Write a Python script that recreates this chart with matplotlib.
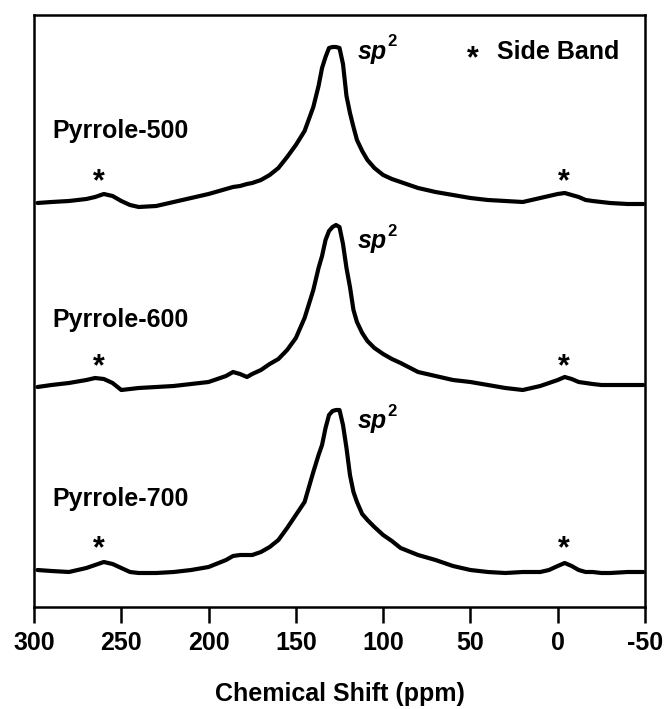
import matplotlib
matplotlib.use("Agg")
import matplotlib.pyplot as plt
import numpy as np

plt.rcParams['font.family'] = ['Liberation Sans', 'DejaVu Sans']

# chemical shift grid (ppm)
ppm = [298, 290, 280, 270, 265, 260, 255, 250, 245, 240, 230, 220, 210, 200,
       190, 186, 182, 178, 175, 170, 165, 160, 155, 150, 145, 140, 137, 135,
       133, 131, 129, 127, 125, 123, 121, 119, 117, 115, 112, 109, 105, 100,
       95, 90, 80, 70, 60, 50, 40, 30, 20, 15, 10, 5, 0, -4, -8, -12, -16,
       -20, -25, -30, -40, -49]

# intensities (arbitrary units, relative to each baseline)
pyrrole_500 = [1, 2, 3, 5, 7, 10, 8, 3, -1, -3, -2, 2, 6, 10,
               15, 17, 18, 20, 21, 24, 29, 36, 47, 59, 73, 97, 118, 136,
               147, 156, 157, 157, 156, 140, 108, 91, 77, 64, 53, 44, 36, 29,
               25, 22, 16, 12, 9, 6, 4, 3, 2, 4, 6, 8, 10, 11, 9, 7, 4,
               3, 2, 1, 0, 0]
pyrrole_600 = [-1, 1, 3, 6, 8, 7, 3, -4, -3, -2, -1, 0, 2, 4,
               10, 14, 12, 9, 12, 16, 22, 27, 36, 48, 68, 96, 118, 130,
               146, 155, 159, 161, 159, 142, 118, 99, 76, 64, 53, 45, 38, 32,
               27, 23, 14, 10, 6, 4, 1, -2, -4, -2, 0, 3, 6, 9, 7, 4, 3,
               2, 1, 1, 1, 1]
pyrrole_700 = [3, 2, 1, 5, 8, 11, 9, 5, 1, 0, 0, 1, 3, 6,
               13, 17, 18, 18, 18, 21, 26, 33, 45, 58, 71, 101, 118, 128,
               145, 158, 162, 163, 163, 148, 125, 98, 81, 71, 59, 53, 46, 38,
               32, 25, 18, 13, 7, 3, 1, 0, 1, 1, 1, 3, 7, 10, 7, 3, 1,
               1, 0, 0, 1, 1]

series = [pyrrole_500, pyrrole_600, pyrrole_700]
names = ["Pyrrole-500", "Pyrrole-600", "Pyrrole-700"]
offsets = [403, 221, 34]

xticks = [300, 250, 200, 150, 100, 50, 0, -50]
side_band_ppm = [263, -3.5]

fig = plt.figure(figsize=(6.66, 7.09), dpi=100)
ax = fig.add_axes([34/666, 1 - 607/709, 611/666, 592/709])

for s, off in zip(series, offsets):
    ax.plot(ppm, np.array(s) + off, color='black', lw=3.0,
            solid_joinstyle='round', solid_capstyle='round')

ax.set_xlim(300, -50)
ax.set_ylim(0, 592)
ax.set_yticks([])
ax.set_xticks(xticks)
ax.set_xticklabels([str(t) for t in xticks], fontsize=18, fontweight='bold')
ax.tick_params(axis='x', direction='out', length=11.5, width=1.8, pad=6)
for sp in ax.spines.values():
    sp.set_linewidth(1.8)
ax.set_xlabel("Chemical Shift (ppm)", fontsize=18, fontweight='bold', labelpad=19)

label_y = [0.792, 0.473, 0.171]
sp_y = [0.926, 0.606, 0.302]
star_y = [417, 232, 50]
for name, ly, sy, st in zip(names, label_y, sp_y, star_y):
    ax.text(0.0295, ly, name, transform=ax.transAxes, fontsize=18,
            fontweight='bold', va='baseline', ha='left')
    t = ax.text(0.530, sy, "sp", transform=ax.transAxes, fontsize=18,
                fontweight='bold', style='italic', va='baseline', ha='left')
    ax.annotate("2", xy=(1.0, 0.6), xycoords=t, xytext=(0.5, 0),
                textcoords='offset points', fontsize=12, fontweight='bold',
                va='bottom', ha='left')
    for sx in side_band_ppm:
        ax.text(sx, st, "*", fontsize=22, fontweight='bold', ha='center',
                va='baseline')

ax.text(0.718, 0.912, "*", transform=ax.transAxes, fontsize=22,
        fontweight='bold', ha='center', va='baseline')
ax.text(0.758, 0.926, "Side Band", transform=ax.transAxes, fontsize=18,
        fontweight='bold', ha='left', va='baseline')

fig.savefig("out.png", dpi=100)
